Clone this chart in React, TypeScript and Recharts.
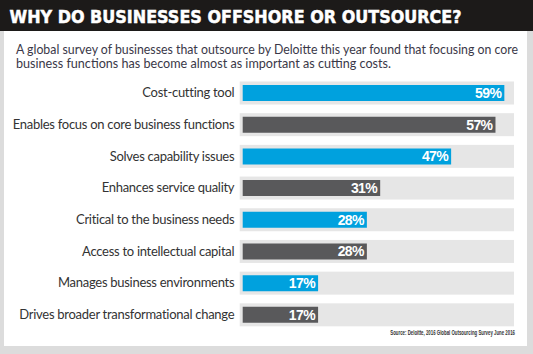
import React from 'react';
import { BarChart, Bar, XAxis, YAxis, Cell, LabelList } from 'recharts';

const categories = [
  'Cost-cutting tool',
  'Enables focus on core business functions',
  'Solves capability issues',
  'Enhances service quality',
  'Critical to the business needs',
  'Access to intellectual capital',
  'Manages business environments',
  'Drives broader transformational change',
];
const shares = [59, 57, 47, 31, 28, 28, 17, 17];

const title = 'WHY DO BUSINESSES OFFSHORE OR OUTSOURCE?';
const introLines = [
  'A global survey of businesses that outsource by Deloitte this year found that focusing on core',
  'business functions has become almost as important as cutting costs.',
];
const source = 'Source: Deloitte, 2016 Global Outsourcing Survey June 2016';

const BLUE = '#00a1de';
const GREY = '#59595b';
const TRACK = '#e6e6e6';

const data = categories.map((name, i) => ({ name, value: shares[i] }));

// grey track behind each bar, a little larger than the bar itself
const Track = (props: any) => {
  const { x, y, width, height } = props;
  return <rect x={x - 3} y={y - 3.5} width={width + 6} height={height + 7} fill={TRACK} />;
};

const CategoryTick = (props: any) => {
  const { x, y, payload } = props;
  return (
    <text
      x={x}
      y={y}
      dy={4.5}
      textAnchor="end"
      fill="#333"
      fontSize={13}
      letterSpacing={-0.28}
      fontFamily="Lato, sans-serif"
    >
      {payload.value}
    </text>
  );
};

export default function App() {
  return (
    <div style={{ position: 'absolute', left: 0, top: 0, width: 533, height: 354, background: '#dcdcdc', overflow: 'hidden' }}>
      <div style={{ position: 'absolute', left: 4, top: 0, width: 523, height: 346, background: '#fff' }} />
      <div style={{ position: 'absolute', left: 0, top: 0, width: 533, height: 31, background: '#1c1a19' }} />
      <svg width={533} height={354} style={{ position: 'absolute', left: 0, top: 0 }}>
        <text
          x={9.5}
          y={23}
          fill="#fff"
          stroke="#fff"
          strokeWidth={0.5}
          fontSize={17.5}
          fontWeight={900}
          fontFamily="'DejaVu Sans', sans-serif"
          textLength={452}
          lengthAdjust="spacingAndGlyphs"
        >
          {title}
        </text>
        {introLines.map((line, i) => (
          <text
            key={i}
            x={16}
            y={53.5 + i * 14.4}
            fill="#3a3848"
            fontSize={12.5}
            fontFamily="Lato, sans-serif"
            textLength={i === 0 ? 502 : 375}
            lengthAdjust="spacingAndGlyphs"
          >
            {line}
          </text>
        ))}
        <text
          transform="translate(515 335) scale(0.62 1)"
          textAnchor="end"
          fill="#333"
          fontSize={7}
          fontWeight={700}
          fontFamily="'Liberation Sans', sans-serif"
        >
          {source}
        </text>
      </svg>
      <div style={{ position: 'absolute', left: 0, top: 0 }}>
        <BarChart
          width={533}
          height={354}
          data={data}
          layout="vertical"
          margin={{ top: 77, right: 22, bottom: 23.5, left: 10.7 }}
        >
          <XAxis type="number" domain={[0, 60.5]} hide />
          <YAxis
            type="category"
            dataKey="name"
            width={232}
            axisLine={false}
            tickLine={false}
            tickSize={0}
            tickMargin={8.4}
            interval={0}
            tick={<CategoryTick />}
          />
          <Bar dataKey="value" barSize={16} background={<Track />} isAnimationActive={false}>
            {data.map((d, i) => (
              <Cell key={d.name} fill={i % 2 === 0 ? BLUE : GREY} />
            ))}
            <LabelList
              dataKey="value"
              position="insideRight"
              offset={3}
              formatter={(v: any) => `${v}%`}
              fill="#fff"
              fontSize={14}
              fontWeight={700}
              fontFamily="'Liberation Sans', sans-serif"
              letterSpacing={-0.6}
            />
          </Bar>
        </BarChart>
      </div>
    </div>
  );
}
